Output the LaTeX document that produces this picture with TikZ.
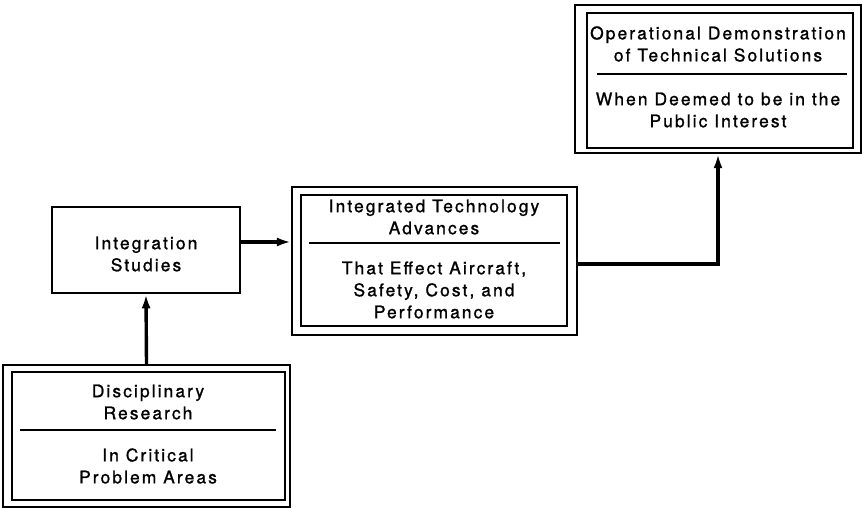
\documentclass[tikz,border=0pt]{standalone}
\usepackage{fontspec}
\setmainfont[LetterSpace=12,FakeBold=1.2]{TeX Gyre Heros}
\usetikzlibrary{arrows.meta}
\begin{document}
\begin{tikzpicture}[x=1bp,y=-1bp,
  outerbox/.style={draw, line width=2.2bp, rectangle, inner sep=0pt},
  innerbox/.style={draw, line width=2.6bp, rectangle, inner sep=0pt},
  divider/.style={line width=2bp},
  txt/.style={align=center, font=\fontsize{17.4bp}{22bp}\selectfont, inner sep=0pt},
  flow/.style={line width=3.4bp, -{Latex[length=14bp,width=9bp]}}
]
\useasboundingbox (0,0) rectangle (862,508);
% Disciplinary Research
\node[outerbox, minimum width=287bp, minimum height=142bp] (diso) at (146.5,436) {};
\node[innerbox, minimum width=273bp, minimum height=128bp] (disi) at (148.5,436) {};
\draw[divider] (20,430) coordinate (d1) -- (276,430) coordinate (d2);
\node[txt] (dist) at (148,402) {Disciplinary\\Research};
\node[txt] (disb) at (148,466) {In Critical\\Problem Areas};
% Integration Studies
\node[innerbox, minimum width=188bp, minimum height=86bp] (int) at (146,250) {};
\node[txt] (intt) at (146,254) {Integration\\Studies};
% Integrated Technology Advances
\node[outerbox, minimum width=285bp, minimum height=148bp] (itao) at (434.5,261) {};
\node[innerbox, minimum width=266bp, minimum height=131bp] (itai) at (434,260.5) {};
\draw[divider] (309,243) coordinate (i1) -- (560,243) coordinate (i2);
\node[txt] (itat) at (434,217) {Integrated Technology\\Advances};
\node[txt] (itab) at (434,290) {That Effect Aircraft,\\Safety, Cost, and\\Performance};
% Operational Demonstration
\node[outerbox, minimum width=286bp, minimum height=148bp] (opo) at (718,79) {};
\node[innerbox, minimum width=266bp, minimum height=135bp] (opi) at (720,80.5) {};
\draw[divider] (597,74) coordinate (o1) -- (847,74) coordinate (o2);
\node[txt] (opt) at (718,44) {Operational Demonstration\\of Technical Solutions};
\node[txt] (opb) at (718,110) {When Deemed to be in the\\Public Interest};
% connectors
\coordinate (intout) at ([yshift=8bp]int.east);
\coordinate (itaout) at ([yshift=-3bp]itao.east);
\draw[flow] (diso.north) -- (int.south);
\draw[flow] (intout) -- (itao.west |- intout);
\draw[flow] (itaout) -| (opo.south);
\end{tikzpicture}
\end{document}
